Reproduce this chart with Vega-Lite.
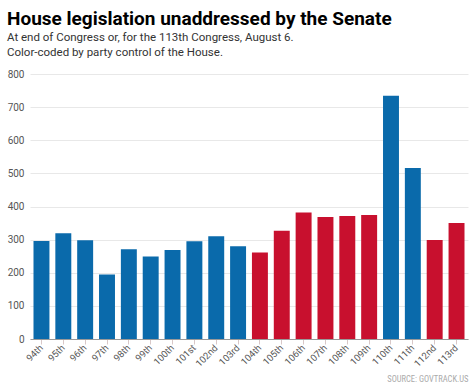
{
  "$schema": "https://vega.github.io/schema/vega-lite/v6.json",
  "autosize": {"type": "none"},
  "width": 438,
  "height": 265,
  "padding": {"left": 30, "top": 74, "right": 6, "bottom": 51},
  "background": "white",
  "title": {
    "text": "House legislation unaddressed by the Senate",
    "subtitle": ["At end of Congress or, for the 113th Congress, August 6.", "Color-coded by party control of the House."],
    "anchor": "start",
    "frame": "group",
    "dx": -23,
    "offset": 11,
    "font": "Roboto",
    "fontSize": 19,
    "fontWeight": "bold",
    "color": "#000000",
    "subtitleFont": "Roboto",
    "subtitleFontSize": 11.5,
    "subtitleColor": "#333333",
    "subtitlePadding": 3,
    "subtitleLineHeight": 15
  },
  "data": {
    "values": [
      {"congress": "94th", "bills": 296, "party": "D"},
      {"congress": "95th", "bills": 319, "party": "D"},
      {"congress": "96th", "bills": 298, "party": "D"},
      {"congress": "97th", "bills": 195, "party": "D"},
      {"congress": "98th", "bills": 271, "party": "D"},
      {"congress": "99th", "bills": 249, "party": "D"},
      {"congress": "100th", "bills": 269, "party": "D"},
      {"congress": "101st", "bills": 295, "party": "D"},
      {"congress": "102nd", "bills": 310, "party": "D"},
      {"congress": "103rd", "bills": 280, "party": "D"},
      {"congress": "104th", "bills": 261, "party": "R"},
      {"congress": "105th", "bills": 327, "party": "R"},
      {"congress": "106th", "bills": 382, "party": "R"},
      {"congress": "107th", "bills": 368, "party": "R"},
      {"congress": "108th", "bills": 371, "party": "R"},
      {"congress": "109th", "bills": 374, "party": "R"},
      {"congress": "110th", "bills": 734, "party": "D"},
      {"congress": "111th", "bills": 516, "party": "D"},
      {"congress": "112nd", "bills": 299, "party": "R"},
      {"congress": "113rd", "bills": 350, "party": "R"}
    ]
  },
  "mark": {"type": "bar"},
  "encoding": {
    "x": {
      "field": "congress",
      "type": "nominal",
      "sort": null,
      "scale": {"paddingInner": 0.27, "paddingOuter": 0.16},
      "axis": {
        "title": "SOURCE: GOVTRACK.US",
        "titleAnchor": "end",
        "titleAlign": "right",
        "titleFont": "Roboto Condensed",
        "titleFontSize": 8.5,
        "titleFontWeight": "normal",
        "titleColor": "#aaaaaa",
        "titlePadding": 6,
        "labelAngle": -45,
        "labelAlign": "right",
        "labelBaseline": "middle",
        "labelFont": "Roboto",
        "labelFontSize": 9.5,
        "labelColor": "#555555",
        "labelPadding": 2,
        "domainColor": "#999999",
        "tickColor": "#d8c8c8",
        "tickSize": 5
      }
    },
    "y": {
      "field": "bills",
      "type": "quantitative",
      "scale": {"domain": [0, 800]},
      "axis": {
        "title": null,
        "values": [0, 100, 200, 300, 400, 500, 600, 700, 800],
        "domain": false,
        "ticks": false,
        "labelFont": "Roboto",
        "labelFontSize": 10,
        "labelColor": "#555555",
        "labelPadding": 6,
        "gridColor": "#e8e8e8"
      }
    },
    "color": {
      "field": "party",
      "type": "nominal",
      "scale": {"domain": ["D", "R"], "range": ["#0a6aab", "#c8102e"]},
      "legend": null
    }
  },
  "config": {"view": {"stroke": null}}
}
